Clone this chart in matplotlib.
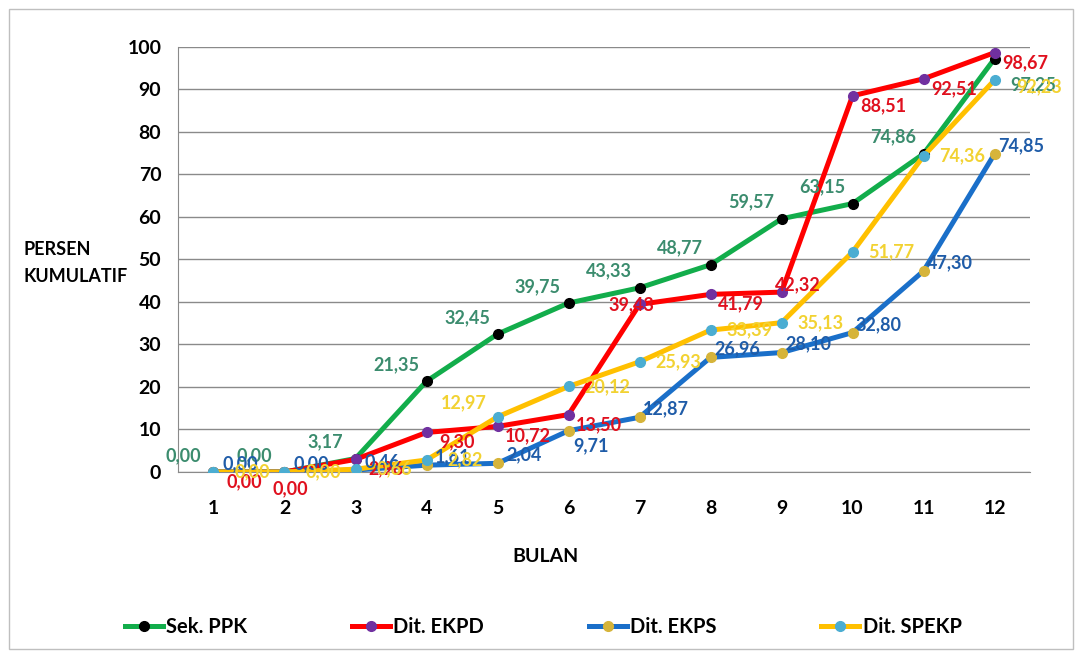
import matplotlib.pyplot as plt
from matplotlib.patches import Rectangle

plt.rcParams['font.family'] = ['Lato', 'DejaVu Sans']

bulan = [1, 2, 3, 4, 5, 6, 7, 8, 9, 10, 11, 12]
sek_ppk = [0.00, 0.00, 3.17, 21.35, 32.45, 39.75, 43.33, 48.77, 59.57, 63.15, 74.86, 97.25]
dit_ekpd = [0.00, 0.00, 2.96, 9.30, 10.72, 13.50, 39.43, 41.79, 42.32, 88.51, 92.51, 98.67]
dit_ekps = [0.00, 0.00, 0.46, 1.61, 2.04, 9.71, 12.87, 26.96, 28.10, 32.80, 47.30, 74.85]
dit_spekp = [0.00, 0.00, 0.66, 2.82, 12.97, 20.12, 25.93, 33.39, 35.13, 51.77, 74.36, 92.23]

series = [
    # name, values, line colour, marker colour, label colour, label offset (pt)
    ("Sek. PPK", sek_ppk, "#12ad4b", "#000000", "#3b8c6e", (-22, 12)),
    ("Dit. EKPD", dit_ekpd, "#ff0000", "#7030a0", "#e0101e", (22, -7)),
    ("Dit. EKPS", dit_ekps, "#1a6fc9", "#d6b43a", "#1f5ca8", (19, 6)),
    ("Dit. SPEKP", dit_spekp, "#ffc000", "#4badd2", "#f2d232", (28, 0)),
]
# a few labels that sit elsewhere in the original
special = {("Dit. SPEKP", 5): (-24, 10), ("Dit. EKPS", 6): (16, -11),
           ("Dit. EKPD", 2): (4, -12), ("Dit. EKPD", 7): (-6, 0),
           ("Dit. EKPD", 9): (12, 5), ("Sek. PPK", 12): (28, -19),
           ("Dit. SPEKP", 12): (32, -5)}

fig = plt.figure(figsize=(10.82, 6.57), dpi=100)
ax = fig.add_axes([0.1645, 0.2816, 0.7875, 0.6469])

for name, vals, lc, mc, tc, off in series:
    ax.plot(bulan, vals, color=lc, lw=3.6, marker="o", ms=7,
            mfc=mc, mec=mc, label=name, zorder=3)
    for x, v in zip(bulan, vals):
        ax.annotate(f"{v:.2f}".replace(".", ","), (x, v),
                    xytext=special.get((name, x), off),
                    textcoords="offset points", ha="center", va="center",
                    fontsize=13, fontweight="bold", color=tc, zorder=4)

ax.set_xlim(0.5, 12.5)
ax.set_ylim(0, 100)
ax.set_xticks(bulan)
ax.set_yticks(range(0, 101, 10))
ax.tick_params(length=0, labelsize=14)
ax.tick_params(axis="y", pad=12)
ax.tick_params(axis="x", pad=20)
for lab in ax.get_xticklabels() + ax.get_yticklabels():
    lab.set_fontweight("bold")
ax.yaxis.grid(True, color="#8a8a8a", lw=1)
ax.set_axisbelow(True)
for s in ["top", "right"]:
    ax.spines[s].set_visible(False)
ax.spines["left"].set_color("#8a8a8a")
ax.spines["bottom"].set_color("#8a8a8a")

fig.text(0.504, 0.153, "BULAN", ha="center", va="center", fontsize=14, fontweight="bold")
fig.text(0.022, 0.6, "PERSEN\nKUMULATIF", ha="left", va="center", fontsize=13,
         fontweight="bold", linespacing=1.7)

fig.legend(loc="center", bbox_to_anchor=(0.502, 0.045), ncol=4, frameon=False,
           handlelength=1.9, columnspacing=5.2, handletextpad=0.15,
           prop={"weight": "bold", "size": 14.5})

fig.patches.append(Rectangle((0.008, 0.012), 0.984, 0.975, transform=fig.transFigure,
                             fill=False, edgecolor="#bfbfbf", lw=1))

fig.savefig("out.png", dpi=100)
